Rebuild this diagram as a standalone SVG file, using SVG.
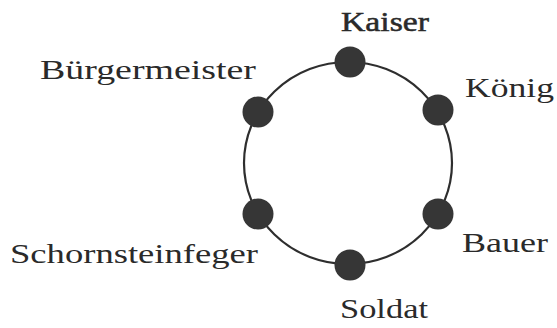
<svg xmlns="http://www.w3.org/2000/svg" width="557" height="328" viewBox="0 0 557 328">
<style>
  .ring { fill: none; stroke: #2e2e2e; stroke-width: 2.2; }
  .node circle { fill: #363636; }
  .lbl { font-family: "Liberation Serif", "Times New Roman", serif; font-size: 28px; fill: #2a2a2a; }
</style>
<rect width="557" height="328" fill="#ffffff"/>
<g id="connectors">
  <ellipse class="ring" cx="348" cy="163" rx="104" ry="101"/>
</g>
<g id="kaiser" class="node">
  <circle cx="350" cy="62" r="15.5"/>
  <text class="lbl" x="341" y="31" textLength="88" lengthAdjust="spacingAndGlyphs" stroke="#2a2a2a" stroke-width="0.5">Kaiser</text>
</g>
<g id="koenig" class="node">
  <circle cx="438" cy="110" r="15.5"/>
  <text class="lbl" x="465" y="97" textLength="89" lengthAdjust="spacingAndGlyphs">König</text>
</g>
<g id="bauer" class="node">
  <circle cx="438" cy="214" r="15.5"/>
  <text class="lbl" x="462" y="252" textLength="86" lengthAdjust="spacingAndGlyphs">Bauer</text>
</g>
<g id="soldat" class="node">
  <circle cx="350" cy="265" r="15.5"/>
  <text class="lbl" x="340" y="318" textLength="88" lengthAdjust="spacingAndGlyphs">Soldat</text>
</g>
<g id="schornsteinfeger" class="node">
  <circle cx="258" cy="214" r="15.5"/>
  <text class="lbl" x="10" y="263" textLength="248" lengthAdjust="spacingAndGlyphs">Schornsteinfeger</text>
</g>
<g id="buergermeister" class="node">
  <circle cx="258" cy="112" r="15.5"/>
  <text class="lbl" x="40" y="79" textLength="216" lengthAdjust="spacingAndGlyphs">Bürgermeister</text>
</g>
</svg>
